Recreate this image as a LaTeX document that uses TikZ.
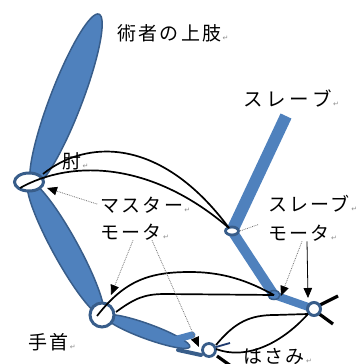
\documentclass[tikz,border=0pt]{standalone}
\usepackage{fontspec}
\newfontfamily\jp[LetterSpace=12]{Noto Sans CJK JP}
\newfontfamily\jpwide[LetterSpace=20]{Noto Sans CJK JP}
\newfontfamily\symfont{DejaVu Sans}
\usetikzlibrary{arrows.meta,shapes.geometric}
\definecolor{limb}{HTML}{4F81BD}
\definecolor{limbedge}{HTML}{385D8A}
\definecolor{navy}{HTML}{1F3A6E}
\begin{document}
\begin{tikzpicture}[x=1pt,y=-1pt,
  limbshape/.style={fill=limb,draw=limbedge,line width=1.5pt},
  joint/.style={fill=white,draw=limbedge},
  slavebar/.style={draw=limb,line cap=butt},
  cable/.style={draw=black,line width=1.7pt},
  blade/.style={draw=black,line width=3.2pt},
  pointer/.style={draw=black!55,densely dotted,line width=0.8pt,
    -{Triangle[length=10pt,width=8.5pt,color=black]}},
  solidpointer/.style={draw=black,line width=0.8pt,
    -{Triangle[length=10pt,width=8.5pt,color=black]}},
  lbl/.style={font=\jp\fontsize{19}{19}\selectfont,inner sep=0pt,anchor=west},
  ret/.style={font=\symfont\fontsize{7}{7}\selectfont,text=black!45,inner sep=0pt,anchor=base west}]
\useasboundingbox (0,0) rectangle (363,364);

% master arm: upper arm, forearm, hand
\fill[limbshape,rotate around={69:(66,100)}] (66,100) ellipse (92 and 16);
\fill[limbshape,rotate around={-61.2:(65.5,248.5)}] (65.5,248.5) ellipse (76 and 12.7);
\fill[limbshape,rotate around={-20:(147.5,331.5)}] (147.5,331.5) ellipse (45 and 7.5);
% gripper jaws
\draw[limb,line width=7pt,line cap=round] (170,341) -- (192,335);
\draw[limbedge,line width=4pt,line cap=round] (178,350) -- (201,355);
\draw[navy,line width=1.8pt] (216,347) -- (230,343);
\draw[blade] (217,356) -- (231,366);

% master joints
\node[joint,ellipse,line width=3pt,minimum width=29pt,minimum height=18pt,inner sep=0pt] (elbow) at (29,182) {};
\node[joint,circle,line width=3pt,minimum size=24pt,inner sep=0pt] (wrist) at (102,315) {};
\node[joint,circle,line width=2.8pt,minimum size=13pt,inner sep=0pt] (pivot) at (209,350) {};

% slave arm
\draw[slavebar,line width=12pt] (286,116) -- (232,231);
\draw[slavebar,line width=10pt] (232,231) -- (274,295);
\draw[slavebar,line width=8pt] (274,295) -- (314,309);
\draw[blade] (320,305) -- (338,296);
\draw[blade] (318,313) -- (333,324);
\node[joint,ellipse,line width=2.8pt,minimum width=13pt,minimum height=8pt,inner sep=0pt] (sjoint) at (232,231) {};
\node[fill=limb,draw=limbedge,line width=1.5pt,ellipse,minimum width=12pt,minimum height=9pt,inner sep=0pt] (smotor) at (274,295) {};
\node[joint,circle,line width=3pt,minimum size=13pt,inner sep=0pt] (swrist) at (314,309) {};

% cables between master and slave
\coordinate (e1) at (43,174);
\coordinate (e2) at (20,188);
\coordinate (w1) at (97,316);
\coordinate (w2) at (116,312);
\coordinate (g1) at (216,345);
\coordinate (g2) at (216,349);
\coordinate (j) at (229,228);
\coordinate (m) at (274,295);
\coordinate (s) at (308,314);
\draw[cable] (e1) .. controls (85,140) and (160,135) .. (j);
\draw[cable] (e2) .. controls (70,160) and (150,160) .. (j);
\draw[cable] (w1) .. controls (125,280) and (150,272) .. (190,272)
                  .. controls (230,272) and (255,285) .. (m);
\draw[cable] (w2) .. controls (135,298) and (145,294) .. (165,294) -- (m);
\draw[cable] (g1) .. controls (235,322) and (250,315) .. (275,315) -- (s);
\draw[cable] (g2) .. controls (245,360) and (280,345) .. (s);

% labels
\node[lbl] (upperlimb) at (117,33) {術者の上肢};
\node[lbl,font=\jpwide\fontsize{19.5}{19.5}\selectfont] (slavetitle) at (243,98) {スレーブ};
\node[lbl] (elbowlbl) at (62,161) {肘};
\node[lbl] (master1) at (100,205) {マスター};
\node[lbl] (master2) at (100,232) {モータ};
\node[lbl] (slave1) at (268,204) {スレーブ};
\node[lbl] (slave2) at (268,233) {モータ};
\node[lbl] (wristlbl) at (28,342) {手首};
\node[lbl] (scissors) at (243,356) {はさみ};
\foreach \n in {upperlimb,slavetitle,elbowlbl,master1,master2,slave1,slave2,wristlbl,scissors}
  \node[ret] at ([xshift=1pt]\n.base east) {↵};

% pointers to the motors
\coordinate (elbowtip) at (47,188);
\coordinate (wristtip) at (111,295);
\coordinate (griptip) at (199,347);
\coordinate (smotortip) at (281,296);
\coordinate (swristtip) at (308,298);
\draw[pointer,shorten <=3pt] (master1.west) -- (elbowtip);
\draw[pointer] ([xshift=33pt]master2.south west) -- (wristtip);
\draw[pointer] ([xshift=52pt]master2.south west) -- (griptip);
\draw[draw=black!55,densely dotted,line width=0.8pt] ([xshift=-10pt]slave2.north west) -- (sjoint.east);
\draw[pointer] ([xshift=34pt]slave2.south west) -- (smotortip);
\draw[solidpointer] ([xshift=39pt]slave2.south west) -- (swristtip);
\end{tikzpicture}
\end{document}
